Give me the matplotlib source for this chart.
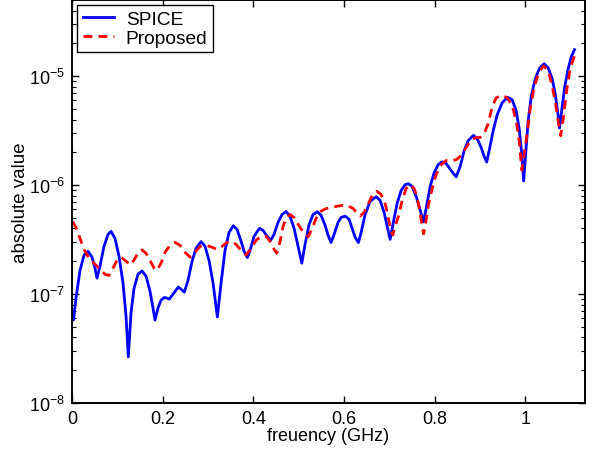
import matplotlib
matplotlib.use('Agg')
import matplotlib.pyplot as plt
from matplotlib.ticker import FuncFormatter, LogLocator
import numpy as np

plt.rcParams['font.family'] = ['Liberation Sans', 'DejaVu Sans']
plt.rcParams['mathtext.fontset'] = 'custom'
plt.rcParams['mathtext.rm'] = 'Liberation Sans'

# ---- data (frequency in GHz, absolute value) ----
spice_f = [0.0000, 0.0033, 0.0088, 0.0177, 0.0265, 0.0353, 0.0442, 0.0508, 0.0552, 0.0618,
           0.0706, 0.0795, 0.0861, 0.0949, 0.1038, 0.1126, 0.1192, 0.1243, 0.1302, 0.1369,
           0.1457, 0.1545, 0.1634, 0.1722, 0.1788, 0.1832, 0.1898, 0.1965, 0.2038, 0.2097,
           0.2148, 0.2230, 0.2347, 0.2406, 0.2479, 0.2561, 0.2649, 0.2737, 0.2848, 0.2936,
           0.3024, 0.3113, 0.3208, 0.3289, 0.3377, 0.3466, 0.3561, 0.3642, 0.3731, 0.3797,
           0.3870, 0.3929, 0.4018, 0.4135, 0.4216, 0.4305, 0.4386, 0.4459, 0.4547, 0.4636,
           0.4724, 0.4812, 0.4901, 0.4989, 0.5071, 0.5143, 0.5232, 0.5320, 0.5415, 0.5497,
           0.5585, 0.5651, 0.5717, 0.5784, 0.5872, 0.5938, 0.6026, 0.6115, 0.6181, 0.6247,
           0.6320, 0.6380, 0.6468, 0.6578, 0.6711, 0.6799, 0.6887, 0.6954, 0.7020, 0.7086,
           0.7174, 0.7263, 0.7351, 0.7424, 0.7506, 0.7594, 0.7682, 0.7755, 0.7815, 0.7903,
           0.7991, 0.8079, 0.8161, 0.8256, 0.8366, 0.8477, 0.8565, 0.8653, 0.8742, 0.8859,
           0.8940, 0.9029, 0.9095, 0.9150, 0.9205, 0.9294, 0.9382, 0.9492, 0.9614, 0.9713,
           0.9801, 0.9868, 0.9923, 0.9967, 1.0011, 1.0066, 1.0132, 1.0221, 1.0320, 1.0419,
           1.0508, 1.0596, 1.0662, 1.0717, 1.0757, 1.0806, 1.0872, 1.0949, 1.1015, 1.1088]
spice_v = [6.97e-8, 5.77e-8, 9.17e-8, 1.65e-7, 2.27e-7, 2.47e-7, 2.18e-7, 1.73e-7, 1.40e-7, 1.80e-7,
           2.74e-7, 3.53e-7, 3.76e-7, 3.25e-7, 2.22e-7, 1.26e-7, 6.28e-8, 2.65e-8, 6.69e-8, 1.13e-7,
           1.52e-7, 1.63e-7, 1.46e-7, 1.06e-7, 7.43e-8, 5.77e-8, 7.43e-8, 8.79e-8, 9.31e-8, 9.17e-8,
           8.98e-8, 9.98e-8, 1.16e-7, 1.11e-7, 1.04e-7, 1.34e-7, 2.00e-7, 2.63e-7, 3.03e-7, 2.74e-7,
           2.04e-7, 1.26e-7, 6.15e-8, 1.26e-7, 2.52e-7, 3.68e-7, 4.24e-7, 3.92e-7, 3.05e-7, 2.47e-7,
           2.16e-7, 2.52e-7, 3.39e-7, 4.01e-7, 3.84e-7, 3.39e-7, 3.13e-7, 3.53e-7, 4.55e-7, 5.38e-7,
           5.73e-7, 5.16e-7, 4.01e-7, 2.74e-7, 1.92e-7, 2.86e-7, 4.36e-7, 5.38e-7, 5.70e-7, 5.27e-7,
           4.27e-7, 3.46e-7, 2.97e-7, 3.53e-7, 4.55e-7, 5.05e-7, 5.19e-7, 4.85e-7, 4.01e-7, 3.32e-7,
           2.97e-7, 3.68e-7, 5.38e-7, 7.08e-7, 7.82e-7, 7.23e-7, 5.62e-7, 4.18e-7, 3.18e-7, 4.45e-7,
           6.79e-7, 8.93e-7, 1.01e-6, 1.03e-6, 9.71e-7, 7.87e-7, 5.86e-7, 4.62e-7, 6.11e-7, 9.71e-7,
           1.30e-6, 1.54e-6, 1.63e-6, 1.58e-6, 1.36e-6, 1.19e-6, 1.48e-6, 2.07e-6, 2.56e-6, 2.86e-6,
           2.67e-6, 2.21e-6, 1.83e-6, 1.63e-6, 2.07e-6, 3.16e-6, 4.42e-6, 5.70e-6, 6.40e-6, 6.07e-6,
           4.81e-6, 3.29e-6, 1.95e-6, 1.09e-6, 1.95e-6, 3.90e-6, 6.47e-6, 9.45e-6, 1.19e-5, 1.30e-5,
           1.19e-5, 9.45e-6, 6.89e-6, 4.71e-6, 3.34e-6, 4.81e-6, 7.98e-6, 1.17e-5, 1.50e-5, 1.75e-5]

prop_f = [0.0015, 0.0088, 0.0177, 0.0265, 0.0375, 0.0508, 0.0640, 0.0728, 0.0817, 0.0905,
          0.0993, 0.1082, 0.1192, 0.1302, 0.1391, 0.1479, 0.1545, 0.1634, 0.1722, 0.1810,
          0.1876, 0.1965, 0.2053, 0.2163, 0.2274, 0.2384, 0.2494, 0.2605, 0.2715, 0.2826,
          0.2958, 0.3091, 0.3201, 0.3311, 0.3422, 0.3510, 0.3620, 0.3731, 0.3841, 0.3951,
          0.4062, 0.4172, 0.4283, 0.4371, 0.4459, 0.4519, 0.4592, 0.4658, 0.4724, 0.4812,
          0.4901, 0.4989, 0.5077, 0.5166, 0.5216, 0.5298, 0.5386, 0.5475, 0.5585, 0.5695,
          0.5828, 0.5960, 0.6093, 0.6203, 0.6291, 0.6358, 0.6446, 0.6534, 0.6623, 0.6726,
          0.6821, 0.6909, 0.6976, 0.7031, 0.7079, 0.7130, 0.7203, 0.7285, 0.7373, 0.7461,
          0.7550, 0.7616, 0.7682, 0.7726, 0.7759, 0.7804, 0.7865, 0.7947, 0.8035, 0.8146,
          0.8256, 0.8366, 0.8477, 0.8587, 0.8698, 0.8808, 0.8918, 0.9007, 0.9095, 0.9183,
          0.9272, 0.9360, 0.9486, 0.9603, 0.9713, 0.9801, 0.9868, 0.9927, 0.9978, 1.0044,
          1.0110, 1.0199, 1.0298, 1.0404, 1.0508, 1.0596, 1.0673, 1.0728, 1.0784, 1.0839,
          1.0920, 1.0993, 1.1088]
prop_v = [4.62e-7, 4.09e-7, 3.25e-7, 2.57e-7, 2.13e-7, 1.88e-7, 1.65e-7, 1.52e-7, 1.48e-7, 1.73e-7,
          2.04e-7, 2.18e-7, 2.00e-7, 1.85e-7, 2.13e-7, 2.47e-7, 2.54e-7, 2.37e-7, 2.04e-7, 1.73e-7,
          1.65e-7, 1.92e-7, 2.42e-7, 2.80e-7, 2.98e-7, 2.80e-7, 2.42e-7, 2.18e-7, 2.42e-7, 2.74e-7,
          2.80e-7, 2.69e-7, 2.57e-7, 2.74e-7, 2.98e-7, 3.05e-7, 2.86e-7, 2.52e-7, 2.28e-7, 2.63e-7,
          3.11e-7, 3.39e-7, 3.39e-7, 3.05e-7, 2.57e-7, 2.37e-7, 3.05e-7, 4.18e-7, 4.95e-7, 5.38e-7,
          5.05e-7, 4.36e-7, 3.84e-7, 3.46e-7, 3.37e-7, 4.01e-7, 4.95e-7, 5.70e-7, 6.04e-7, 6.20e-7,
          6.37e-7, 6.51e-7, 6.44e-7, 6.11e-7, 5.50e-7, 5.19e-7, 5.62e-7, 6.65e-7, 8.03e-7, 8.79e-7,
          8.20e-7, 6.79e-7, 5.16e-7, 3.84e-7, 3.48e-7, 4.18e-7, 5.16e-7, 7.23e-7, 9.31e-7, 1.01e-6,
          9.31e-7, 7.70e-7, 5.62e-7, 4.18e-7, 3.57e-7, 4.45e-7, 6.55e-7, 9.31e-7, 1.25e-6, 1.54e-6,
          1.68e-6, 1.68e-6, 1.71e-6, 1.87e-6, 2.21e-6, 2.61e-6, 2.73e-6, 2.73e-6, 2.97e-6, 3.66e-6,
          5.24e-6, 6.33e-6, 6.67e-6, 6.33e-6, 5.35e-6, 3.90e-6, 2.51e-6, 1.37e-6, 1.95e-6, 2.97e-6,
          5.02e-6, 7.98e-6, 1.07e-5, 1.24e-5, 1.12e-5, 8.15e-6, 5.46e-6, 3.90e-6, 2.84e-6, 4.07e-6,
          7.65e-6, 1.17e-5, 1.54e-5]

x_ticks = [0, 0.2, 0.4, 0.6, 0.8, 1]

fs = 13

fig = plt.figure(figsize=(5.92, 4.52), dpi=100)
ax = fig.add_axes([0.1216, 0.1062, 0.8666, 0.8916])

ax.semilogy(spice_f, spice_v, '-', color='#0000ff', lw=2.0, label='SPICE')
ax.semilogy(prop_f, prop_v, '--', color='#ff0000', lw=2.0, dashes=(3.2, 2.2), label='Proposed')

ax.set_xlim(0, 1.132)
ax.set_ylim(1e-8, 5e-5)
ax.set_xticks(x_ticks)
ax.xaxis.set_major_formatter(FuncFormatter(lambda v, p: '%g' % v))
ax.yaxis.set_minor_locator(LogLocator(base=10, subs=np.arange(2, 10)))

ax.tick_params(which='both', direction='in', top=True, right=True, labelsize=fs)
ax.tick_params(which='major', length=5, width=1)
ax.tick_params(which='minor', length=3, width=0.8)
ax.tick_params(axis='x', pad=5)
ax.tick_params(axis='y', pad=5)
for s in ax.spines.values():
    s.set_linewidth(1.4)

ax.set_xlabel('freuency (GHz)', fontsize=fs, labelpad=0)
ax.set_ylabel('absolute value', fontsize=13.5, labelpad=0)

leg = ax.legend(loc='upper left', bbox_to_anchor=(0.0, 1.0), fontsize=13.8, fancybox=False,
                framealpha=1, edgecolor='black', borderaxespad=0.26, handlelength=1.65,
                borderpad=0.3, labelspacing=0.05, handletextpad=0.6)
leg.get_frame().set_linewidth(1.0)

fig.savefig('out.png', dpi=100, facecolor='white')
